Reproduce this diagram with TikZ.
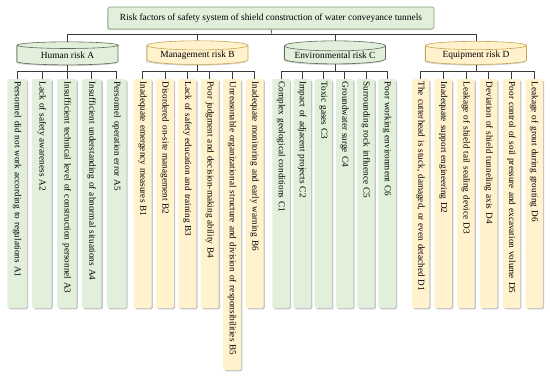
\documentclass[tikz,border=0pt]{standalone}
\usepackage{fontspec}
\setmainfont{Liberation Serif}
\usetikzlibrary{shapes.geometric,shadows}
\definecolor{gfill}{HTML}{E2EFDA}
\definecolor{yfill}{HTML}{FFF2CC}
\definecolor{gline}{HTML}{5E6B58}
\definecolor{yline}{HTML}{C9A552}
\definecolor{tline}{HTML}{86A078}
\definecolor{conn}{HTML}{3A3A3A}
\tikzset{
  txt/.style={font=\fontsize{9.4}{11}\selectfont},
  ltxt/.style={font=\fontsize{9.2}{11}\selectfont},
  topbox/.style={txt, draw=tline, fill=gfill, rounded corners=2pt, line width=0.6pt,
    minimum width=326pt, minimum height=22pt, inner sep=2pt,
    drop shadow={shadow xshift=-1pt, shadow yshift=-1.2pt, opacity=0.35, fill=gray}},
  parent/.style={txt, cylinder, shape border rotate=90, aspect=0.12, draw, line width=0.6pt,
    minimum width=101pt, minimum height=23pt, inner sep=1pt,
    drop shadow={shadow xshift=-1pt, shadow yshift=-1.2pt, opacity=0.35, fill=gray}},
  pg/.style={parent, draw=gline, fill=gfill},
  py/.style={parent, draw=yline, fill=yfill},
  leaf/.style={ltxt, rotate=-90, anchor=west, rounded corners=1.5pt, draw=none,
    inner xsep=2.5pt, inner ysep=0pt, align=left, text width=224pt,
    drop shadow={shadow xshift=1.3pt, shadow yshift=-1.1pt, opacity=0.45, fill=gray}},
  lg/.style={leaf, fill=gfill},
  ly/.style={leaf, fill=yfill},
  link/.style={draw=conn, line width=0.6pt},
}
\begin{document}
\begin{tikzpicture}[x=1pt,y=1pt]
\useasboundingbox (0,0) rectangle (550,-377);
\node[topbox] (top) at (271,-18) {Risk factors of safety system of shield construction of water conveyance tunnels};
\node[pg] (A) at (67.5,-55.5) {Human risk A};
\node[py] (B) at (197.5,-55.5) {Management risk B};
\node[pg] (C) at (335,-55.5) {Environmental risk C};
\node[py] (D) at (476,-55.5) {Equipment risk D};
\coordinate (hub) at (272,-34.5);
\draw[link] (top.south) -- (hub);
\draw[link] (A.north |- hub) -- (D.north |- hub);
\foreach \p in {A,B,C,D} \draw[link] (\p.north |- hub) -- (\p.north);
% leaves A
\foreach \i/\t in {1/{Personnel did not work according to regulations A1},
  2/{Lack of safety awareness A2},
  3/{Insufficient technical level of construction personnel A3},
  4/{Insufficient understanding of abnormal situations A4},
  5/{Personnel operation error A5}}
  \node[lg, minimum height=19.5pt] (a\i) at ({17+24.9*(\i-1)},-79) {\t};
% leaves B
\foreach \i/\t in {1/{Inadequate emergency measures B1},
  2/{Disordered on-site management B2},
  3/{Lack of safety education and training B3},
  4/{Poor judgment and decision-making ability B4},
  6/{Inadequate monitoring and early warning B6}}
  \node[ly, minimum height=18pt] (b\i) at ({142.5+22.4*(\i-1)},-79) {\t};
\node[ly, minimum height=18pt, text width=286pt] (b5) at ({142.5+22.4*4},-79) {Unreasonable organizational structure and division of responsibilities B5};
% leaves C
\foreach \i/\t in {1/{Complex geological conditions C1},
  2/{Impact of adjacent projects C2},
  3/{Toxic gases C3},
  4/{Groundwater surge C4},
  5/{Surrounding rock influence C5},
  6/{Poor working environment C6}}
  \node[lg, minimum height=17.5pt] (c\i) at ({281+21.2*(\i-1)},-79) {\t};
% leaves D
\foreach \i/\t in {1/{The cutterhead is stuck, damaged, or even detached D1},
  2/{Inadequate support engineering D2},
  3/{Leakage of shield tail sealing device D3},
  4/{Deviation of shield tunneling axis D4},
  5/{Poor control of soil pressure and excavation volume D5},
  6/{Leakage of grout during grouting D6}}
  \node[ly, minimum height=17.5pt] (d\i) at ({420.5+22.7*(\i-1)},-79) {\t};
% buses
\coordinate (busA) at (0,-71.5);
\draw[link] (a1.west |- busA) -- (a5.west |- busA);
\draw[link] (A.south) -- (A.south |- busA);
\foreach \i in {1,...,5} \draw[link] (a\i.west |- busA) -- (a\i.west);
\draw[link] (b1.west |- busA) -- (b6.west |- busA);
\draw[link] (B.south) -- (B.south |- busA);
\foreach \i in {1,...,6} \draw[link] (b\i.west |- busA) -- (b\i.west);
\draw[link] (c1.west |- busA) -- (c6.west |- busA);
\draw[link] (C.south) -- (C.south |- busA);
\foreach \i in {1,...,6} \draw[link] (c\i.west |- busA) -- (c\i.west);
\draw[link] (d1.west |- busA) -- (d6.west |- busA);
\draw[link] (D.south) -- (D.south |- busA);
\foreach \i in {1,...,6} \draw[link] (d\i.west |- busA) -- (d\i.west);
\end{tikzpicture}
\end{document}
